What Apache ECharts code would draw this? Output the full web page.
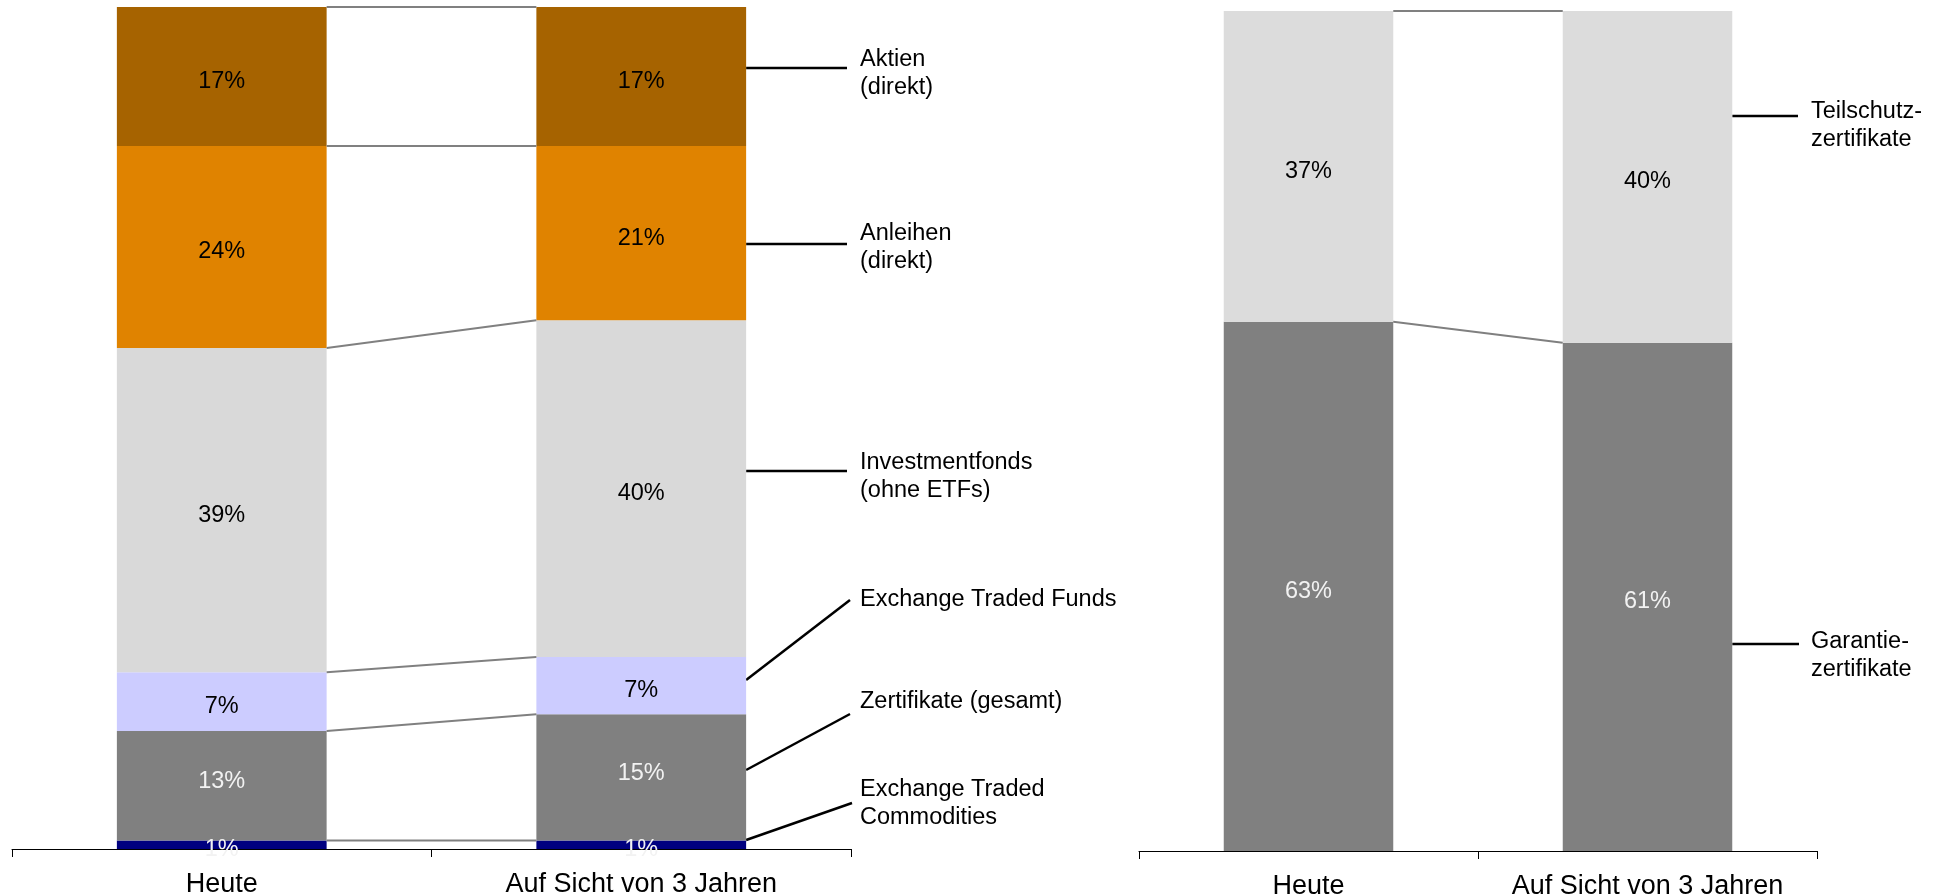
<!DOCTYPE html>
<html>
<head>
<meta charset="utf-8">
<title>Anlageprodukte heute und auf Sicht von 3 Jahren</title>
<script src="https://cdn.jsdelivr.net/npm/echarts@6/dist/echarts.min.js"></script>
<style>
  html, body { margin: 0; padding: 0; background: #fff; }
  #main { width: 1945px; height: 895px; }
</style>
</head>
<body>
<div id="main"></div>
<script>
// Kategorien (x-Achse)
var categories = ['Heute', 'Auf Sicht von 3 Jahren'];

// linkes Diagramm: Anteile in %, von unten nach oben gestapelt
var etc = [1, 1];
var zertifikate = [13, 15];
var etfs = [7, 6.8];
var fonds = [38.5, 40];
var anleihen = [24, 20.7];
var aktien = [16.5, 16.5];

// rechtes Diagramm: Aufteilung der Zertifikate
var garantie = [63, 60.5];
var teilschutz = [37, 39.5];

var fontName = 'Liberation Sans, Arial, sans-serif';

var chart = echarts.init(document.getElementById('main'));

function pct(p) {
  return Math.round(p.value) + '%';
}

function barSeries(name, data, color, labelColor, axis, dy) {
  return {
    name: name,
    type: 'bar',
    stack: 'stack' + axis,
    xAxisIndex: axis * 2,
    yAxisIndex: axis,
    barWidth: '50%',
    data: data,
    itemStyle: { color: color },
    label: {
      show: true,
      position: 'inside',
      offset: [0, dy === undefined ? 5 : dy],
      formatter: pct,
      color: labelColor,
      fontSize: 23.5,
      fontFamily: fontName
    },
    silent: true
  };
}

// Verbindungslinien zwischen den Stapelgrenzen
function connectors(stacks, axis) {
  var out = [];
  var a = 0, b = 0;
  stacks.forEach(function (s) {
    a += s[0];
    b += s[1];
    out.push({
      type: 'line',
      xAxisIndex: axis * 2 + 1,
      yAxisIndex: axis,
      data: [[0.75, a], [1.25, b]],
      symbol: 'none',
      silent: true,
      lineStyle: { color: '#808080', width: 2 }
    });
  });
  return out;
}

function catAxis(grid) {
  return {
    type: 'category',
    gridIndex: grid,
    data: categories,
    axisLine: { lineStyle: { color: '#000', width: 1 } },
    axisTick: { show: true, length: 8, lineStyle: { color: '#000' } },
    axisLabel: {
      interval: 0,
      hideOverlap: false,
      fontSize: 27,
      color: '#000',
      fontFamily: fontName,
      margin: 22
    }
  };
}

function helperAxis(grid) {
  return { type: 'value', gridIndex: grid, min: 0, max: 2, show: false };
}

function valAxis(grid) {
  return { type: 'value', gridIndex: grid, min: 0, max: 100, show: false };
}

var leftStacks = [etc, zertifikate, etfs, fonds, anleihen, aktien];
var rightStacks = [garantie, teilschutz];

var series = [
  barSeries('Exchange Traded Commodities', etc, '#000080', '#F2F2F2', 0),
  barSeries('Zertifikate (gesamt)', zertifikate, '#808080', '#F2F2F2', 0, -4),
  barSeries('Exchange Traded Funds', etfs, '#CCCCFF', '#000', 0),
  barSeries('Investmentfonds (ohne ETFs)', fonds, '#D9D9D9', '#000', 0),
  barSeries('Anleihen (direkt)', anleihen, '#E08300', '#000', 0),
  barSeries('Aktien (direkt)', aktien, '#A66300', '#000', 0),
  barSeries('Garantiezertifikate', garantie, '#808080', '#F2F2F2', 1),
  barSeries('Teilschutzzertifikate', teilschutz, '#DCDCDC', '#000', 1)
].concat(connectors(leftStacks, 0), connectors(rightStacks, 1));

// Beschriftungen rechts neben den Balken
function note(text, x, yCenter) {
  return {
    type: 'text',
    x: x,
    y: yCenter - 14,
    silent: true,
    style: {
      text: text,
      font: '23.5px ' + fontName,
      fill: '#000',
      lineHeight: 28,
      verticalAlign: 'top'
    }
  };
}

function leader(x1, y1, x2, y2) {
  return {
    type: 'line',
    silent: true,
    shape: { x1: x1, y1: y1, x2: x2, y2: y2 },
    style: { stroke: '#000', lineWidth: 2.5 }
  };
}

var option = {
  animation: false,
  backgroundColor: '#fff',
  grid: [
    { left: 12, top: 7, width: 839, height: 842, outerBoundsMode: 'none' },
    { left: 1139, top: 11, width: 678, height: 840, outerBoundsMode: 'none' }
  ],
  xAxis: [catAxis(0), helperAxis(0), catAxis(1), helperAxis(1)],
  yAxis: [valAxis(0), valAxis(1)],
  series: series
};

chart.setOption(option);

// rechte Balkenkante aus den Achsen bestimmen
var edgeL = chart.convertToPixel({ xAxisIndex: 1 }, 1.75);
var edgeR = chart.convertToPixel({ xAxisIndex: 3 }, 1.75);

chart.setOption({
  graphic: [
    leader(edgeL, 68, 847, 68), note('Aktien\n(direkt)', 860, 60),
    leader(edgeL, 244, 847, 244), note('Anleihen\n(direkt)', 860, 234),
    leader(edgeL, 471, 847, 471), note('Investmentfonds\n(ohne ETFs)', 860, 463),
    leader(edgeL, 680, 850, 600), note('Exchange Traded Funds', 860, 600),
    leader(edgeL, 770, 850, 714), note('Zertifikate (gesamt)', 860, 702),
    leader(edgeL, 840, 852, 803), note('Exchange Traded\nCommodities', 860, 790),
    leader(edgeR, 116, 1798, 116), note('Teilschutz-\nzertifikate', 1811, 112),
    leader(edgeR, 644, 1799, 644), note('Garantie-\nzertifikate', 1811, 642)
  ]
});
</script>
</body>
</html>
